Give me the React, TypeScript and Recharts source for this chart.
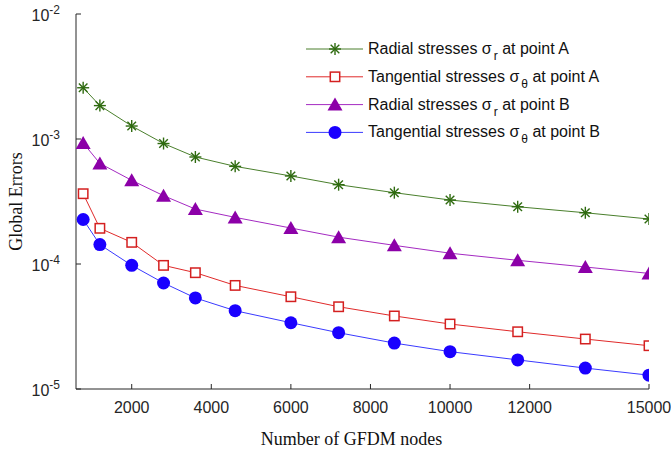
import { Legend, Line, LineChart, XAxis, YAxis, Label } from "recharts";

const nodes = [780, 1200, 2000, 2800, 3600, 4600, 6000, 7200, 8600, 10000, 11700, 13400, 15000];
const radialA = [2.57e-3, 1.85e-3, 1.27e-3, 9.2e-4, 7.18e-4, 6.04e-4, 5.06e-4, 4.31e-4, 3.72e-4, 3.25e-4, 2.87e-4, 2.57e-4, 2.29e-4];
const tangentialA = [3.65e-4, 1.93e-4, 1.49e-4, 9.75e-5, 8.52e-5, 6.74e-5, 5.47e-5, 4.55e-5, 3.84e-5, 3.31e-5, 2.87e-5, 2.51e-5, 2.22e-5];
const radialB = [9.29e-4, 6.38e-4, 4.67e-4, 3.52e-4, 2.75e-4, 2.36e-4, 1.94e-4, 1.64e-4, 1.41e-4, 1.22e-4, 1.07e-4, 9.46e-5, 8.41e-5];
const tangentialB = [2.27e-4, 1.43e-4, 9.75e-5, 7.05e-5, 5.35e-5, 4.23e-5, 3.39e-5, 2.82e-5, 2.33e-5, 1.99e-5, 1.71e-5, 1.47e-5, 1.29e-5];

const xTicks = [2000, 4000, 6000, 8000, 10000, 12000, 15000];
const yTicks = [1e-5, 1e-4, 1e-3, 1e-2];

const SANS = "'Liberation Sans', Arial, sans-serif";
const SERIF = "'Liberation Serif', 'Times New Roman', serif";
const AXIS = "#262626";

const data = nodes.map((n, i) => ({
  n,
  radialA: radialA[i],
  tangentialA: tangentialA[i],
  radialB: radialB[i],
  tangentialB: tangentialB[i],
}));

type Kind = "star" | "square" | "triangle" | "circle";

function Marker({ kind, cx, cy, color }: { kind: Kind; cx: number; cy: number; color: string }) {
  if (kind === "star") {
    const r = 6;
    const d = 4.3;
    return (
      <g stroke={color} strokeWidth={1.4}>
        <line x1={cx} y1={cy - r} x2={cx} y2={cy + r} />
        <line x1={cx - r} y1={cy} x2={cx + r} y2={cy} />
        <line x1={cx - d} y1={cy - d} x2={cx + d} y2={cy + d} />
        <line x1={cx - d} y1={cy + d} x2={cx + d} y2={cy - d} />
      </g>
    );
  }
  if (kind === "square") {
    return <rect x={cx - 4.7} y={cy - 4.7} width={9.4} height={9.4} fill="#fff" stroke={color} strokeWidth={1.5} />;
  }
  if (kind === "triangle") {
    return <polygon points={`${cx},${cy - 7} ${cx - 7.5},${cy + 6} ${cx + 7.5},${cy + 6}`} fill={color} />;
  }
  return <circle cx={cx} cy={cy} r={6.5} fill={color} />;
}

const series = [
  { key: "radialA", line: "#4a7f2c", mark: "#2f6b10", kind: "star" as Kind, name: "Radial stresses σ", sub: "r", tail: " at point A" },
  { key: "tangentialA", line: "#e02a2a", mark: "#d42020", kind: "square" as Kind, name: "Tangential stresses σ", sub: "θ", tail: " at point A" },
  { key: "radialB", line: "#a42ac2", mark: "#8c00a8", kind: "triangle" as Kind, name: "Radial stresses σ", sub: "r", tail: " at point B" },
  { key: "tangentialB", line: "#3a3aff", mark: "#1a00ff", kind: "circle" as Kind, name: "Tangential stresses σ", sub: "θ", tail: " at point B" },
];

const dotFor = (kind: Kind, color: string) => (p: any) => {
  if (p.cx == null || p.cy == null) return <g key={p.key} />;
  return (
    <g key={p.key}>
      <Marker kind={kind} cx={p.cx} cy={p.cy} color={color} />
    </g>
  );
};

const XTick = ({ x, y, payload }: any) => {
  const axisY = y - 8;
  return (
    <g>
      <line x1={x} x2={x} y1={axisY} y2={axisY - 5} stroke={AXIS} />
      <text x={x} y={axisY + 24} textAnchor="middle" fontFamily={SANS} fontSize={16} fill="#262626">
        {payload.value}
      </text>
    </g>
  );
};

const YTick = ({ x, y, payload }: any) => {
  const axisX = x + 8;
  const exp = Math.round(Math.log10(payload.value));
  return (
    <g>
      <line x1={axisX} x2={axisX + 5} y1={y} y2={y} stroke={AXIS} />
      <text x={axisX - 16} y={y + 7} textAnchor="end" fontFamily={SANS} fontSize={16} fill="#262626">
        10
        <tspan dy={-7} fontSize={12}>
          {exp}
        </tspan>
      </text>
    </g>
  );
};

const LegendBox = () => (
  <svg width={340} height={120} style={{ display: "block" }}>
    {series.map((s, i) => {
      const y = 19 + i * 27.8;
      return (
        <g key={s.key}>
          <line x1={6} x2={63} y1={y} y2={y} stroke={s.line} strokeWidth={1} />
          <Marker kind={s.kind} cx={35} cy={y} color={s.mark} />
          <text x={68} y={y + 5} fontFamily={SANS} fontSize={16} fill="#111">
            {s.name}
            <tspan dx={2} dy={6} fontSize={12}>
              {s.sub}
            </tspan>
            <tspan dy={-6}>{s.tail}</tspan>
          </text>
        </g>
      );
    })}
  </svg>
);

export default function App() {
  return (
    <div style={{ position: "absolute", left: 0, top: 0, background: "#fff" }}>
      <LineChart width={671} height={450} data={data} margin={{ top: 14, right: 22, bottom: 31, left: 0 }}>
        <XAxis
          dataKey="n"
          type="number"
          domain={[600, 15000]}
          ticks={xTicks}
          interval={0}
          allowDataOverflow
          height={30}
          stroke={AXIS}
          tickLine={false}
          tick={<XTick />}
        >
          <Label
            content={({ viewBox }: any) => (
              <text
                x={viewBox.x + viewBox.width / 2 - 11}
                y={viewBox.y + 56}
                textAnchor="middle"
                fontFamily={SERIF}
                fontSize={18}
                fill="#111"
              >
                Number of GFDM nodes
              </text>
            )}
          />
        </XAxis>
        <YAxis
          type="number"
          scale="log"
          domain={[1e-5, 1e-2]}
          ticks={yTicks}
          interval={0}
          allowDataOverflow
          width={76}
          stroke={AXIS}
          tickLine={false}
          tick={<YTick />}
        >
          <Label
            content={({ viewBox }: any) => {
              const cy = viewBox.y + viewBox.height / 2;
              return (
                <text
                  x={22}
                  y={cy}
                  transform={`rotate(-90, 22, ${cy})`}
                  textAnchor="middle"
                  fontFamily={SERIF}
                  fontSize={18}
                  fill="#111"
                >
                  Global Errors
                </text>
              );
            }}
          />
        </YAxis>
        <Legend
          layout="horizontal"
          align="center"
          verticalAlign="middle"
          wrapperStyle={{ left: 300, top: 30, width: 340, height: 120 }}
          content={<LegendBox />}
        />
        {series.map((s) => (
          <Line
            key={s.key}
            dataKey={s.key}
            type="linear"
            stroke={s.line}
            strokeWidth={1}
            dot={dotFor(s.kind, s.mark)}
            activeDot={false}
            isAnimationActive={false}
          />
        ))}
      </LineChart>
    </div>
  );
}
